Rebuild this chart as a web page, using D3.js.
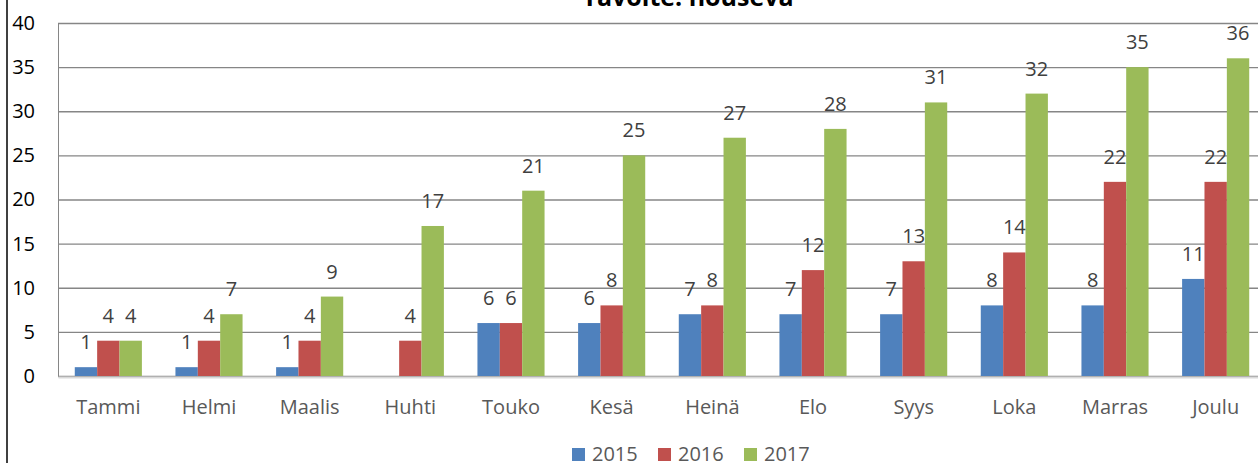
<!DOCTYPE html>
<html>
<head>
<meta charset="utf-8">
<script src="https://cdn.jsdelivr.net/npm/d3@7"></script>
<style>
  html, body { margin: 0; padding: 0; background: #fff; }
  svg { display: block; font-family: "Open Sans", "Liberation Sans", sans-serif; }
</style>
</head>
<body>
<svg id="chart" width="1258" height="463"></svg>
<script>
// Monthly values per year
const months = ["Tammi", "Helmi", "Maalis", "Huhti", "Touko", "Kesä", "Heinä", "Elo", "Syys", "Loka", "Marras", "Joulu"];
const years = ["2015", "2016", "2017"];
const values2015 = [1, 1, 1, null, 6, 6, 7, 7, 7, 8, 8, 11];
const values2016 = [4, 4, 4, 4, 6, 8, 8, 12, 13, 14, 22, 22];
const values2017 = [4, 7, 9, 17, 21, 25, 27, 28, 31, 32, 35, 36];
const yTicks = [0, 5, 10, 15, 20, 25, 30, 35, 40];
const titleText = "Tavoite: nouseva";

const seriesValues = { "2015": values2015, "2016": values2016, "2017": values2017 };
const colors = { "2015": "#4F81BD", "2016": "#C0504D", "2017": "#9BBB59" };

const svg = d3.select("#chart");
const plot = { left: 58, right: 1266, top: 23, bottom: 376 };

const x0 = d3.scaleBand().domain(months).range([plot.left, plot.right]).padding(0);
const bw = x0.bandwidth();
const gap = bw * (1.5 / 4.5) / 2;
const x1 = d3.scaleBand().domain(years).range([gap, bw - gap]).padding(0);
const y = d3.scaleLinear().domain([0, 40]).range([plot.bottom, plot.top]);

// Outer frame line on the left
svg.append("line")
  .attr("x1", 7).attr("x2", 7).attr("y1", 0).attr("y2", 463)
  .attr("stroke", "#000").attr("stroke-width", 1.5);

// Title
svg.append("text")
  .attr("x", 688).attr("y", 6)
  .attr("text-anchor", "middle")
  .attr("font-weight", "bold")
  .attr("font-size", 25)
  .attr("fill", "#000")
  .text(titleText);

// Y axis with gridlines
const yAxis = svg.append("g")
  .attr("transform", `translate(${plot.left},0)`)
  .call(d3.axisLeft(y).tickValues(yTicks).tickSize(-(plot.right - plot.left)).tickPadding(23));
yAxis.select(".domain").attr("stroke", "#868686").attr("stroke-width", 1);
yAxis.selectAll(".tick line").attr("stroke", "#868686").attr("stroke-width", 1.3);
yAxis.selectAll(".tick text")
  .attr("font-size", 20)
  .attr("fill", "#000")
  .attr("font-family", "\"Open Sans\", sans-serif");

// Bars
const groups = svg.append("g").selectAll("g")
  .data(months)
  .join("g")
  .attr("transform", d => `translate(${x0(d)},0)`);

years.forEach(yr => {
  const vals = seriesValues[yr];
  groups.filter((d, i) => vals[i] != null)
    .append("rect")
    .attr("x", x1(yr))
    .attr("width", x1.bandwidth())
    .attr("y", d => y(vals[months.indexOf(d)]))
    .attr("height", d => y(0) - y(vals[months.indexOf(d)]))
    .attr("fill", colors[yr]);
});

// Value labels
years.forEach(yr => {
  const vals = seriesValues[yr];
  groups.filter((d, i) => vals[i] != null)
    .append("text")
    .attr("x", x1(yr) + x1.bandwidth() / 2)
    .attr("y", d => y(vals[months.indexOf(d)]) - 18)
    .attr("text-anchor", "middle")
    .attr("font-size", 20)
    .attr("fill", "#404040")
    .text(d => vals[months.indexOf(d)]);
});

// X axis
const xAxis = svg.append("g")
  .attr("transform", `translate(0,${plot.bottom})`)
  .call(d3.axisBottom(x0).tickSize(0));
xAxis.select(".domain").attr("stroke", "#D9D9D9").attr("stroke-width", 2).attr("transform", "translate(0,1)");
xAxis.selectAll(".tick text")
  .attr("y", 38).attr("dy", 0)
  .attr("font-size", 20)
  .attr("fill", "#595959")
  .attr("font-family", "\"Open Sans\", sans-serif");

// Legend
const legendItems = [
  { key: "2015", sx: 572, tx: 592 },
  { key: "2016", sx: 658, tx: 678 },
  { key: "2017", sx: 744, tx: 764 }
];
const legend = svg.append("g");
legend.selectAll("rect").data(legendItems).join("rect")
  .attr("x", d => d.sx).attr("y", 448).attr("width", 13).attr("height", 13)
  .attr("fill", d => colors[d.key]);
legend.selectAll("text").data(legendItems).join("text")
  .attr("x", d => d.tx).attr("y", 461)
  .attr("font-size", 20)
  .attr("fill", "#595959")
  .text(d => d.key);
</script>
</body>
</html>
